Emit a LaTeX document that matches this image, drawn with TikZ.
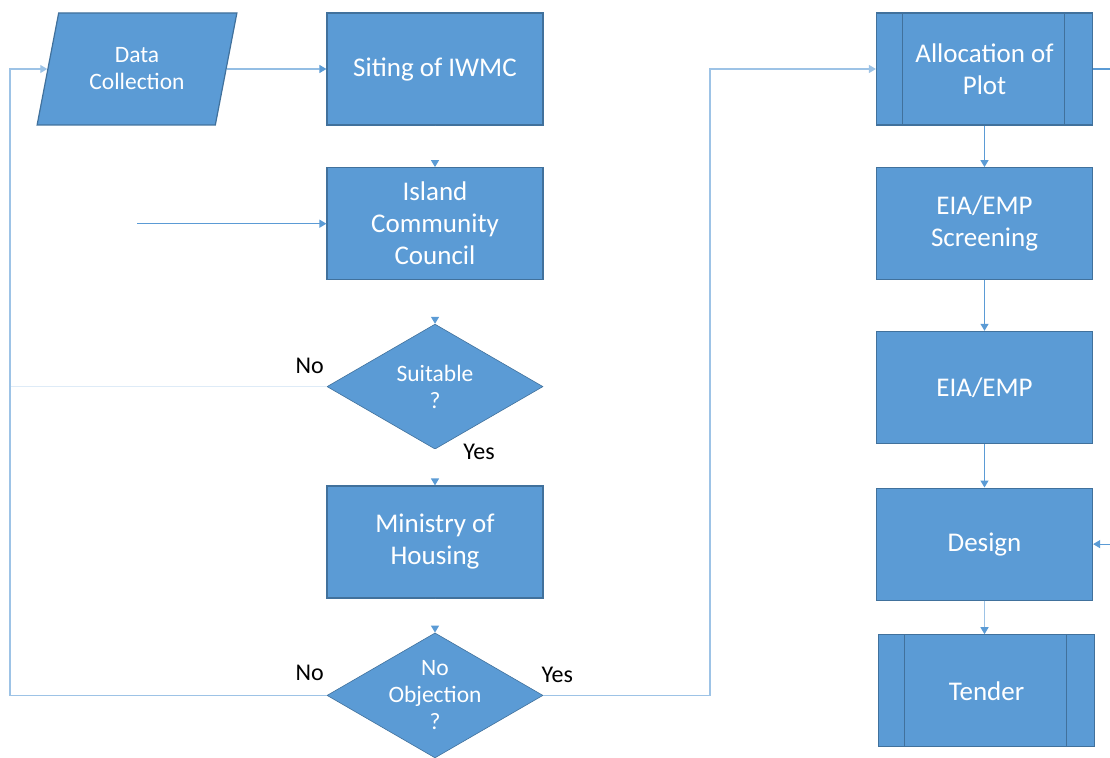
\documentclass[tikz,border=0pt]{standalone}
\usepackage{fontspec}
\setmainfont{Carlito}
\usetikzlibrary{positioning,shapes.geometric,arrows.meta}

\definecolor{boxfill}{HTML}{5B9BD5}
\definecolor{boxline}{HTML}{41719C}
\definecolor{flow}{HTML}{5B9BD5}
\definecolor{softflow}{HTML}{9DC3E6}
\definecolor{faintflow}{HTML}{DEEBF7}
\newcommand{\boxfont}{\fontsize{27}{32}\selectfont}
\newcommand{\qfont}{\fontsize{23.5}{27}\selectfont}
\newcommand{\lblfont}{\fontsize{24}{28}\selectfont}

\tikzset{
  procbox/.style={draw=boxline, line width=1.2pt, fill=boxfill, text=white,
    minimum width=216pt, minimum height=112pt, align=center, font=\boxfont},
  subproc/.style={procbox, path picture={
      \draw[boxline, line width=1.2pt]
        ([xshift=26pt]path picture bounding box.north west) -- ([xshift=26pt]path picture bounding box.south west)
        ([xshift=-28pt]path picture bounding box.north east) -- ([xshift=-28pt]path picture bounding box.south east);}},
  datain/.style={trapezium, trapezium left angle=74, trapezium right angle=106,
    trapezium stretches=true, draw=boxline, line width=1.2pt, fill=boxfill, text=white,
    minimum width=200pt, minimum height=112pt, align=center, font=\qfont},
  decision/.style={diamond, shape aspect=1.73, draw=boxline, line width=0.6pt, fill=boxfill, text=white,
    minimum width=216pt, minimum height=125pt, inner sep=0pt, align=center, font=\qfont},
  lbl/.style={text=black, font=\lblfont},
  flowline/.style={draw=flow, line width=1.2pt},
  tiponly/.style={draw=white, line width=1.2pt, -{Triangle[width=8pt,length=7pt,color=flow]}}
}

\begin{document}
\begin{tikzpicture}[x=1pt,y=-1pt,>={Triangle[width=8pt,length=7pt]}]
  \useasboundingbox (0,0) rectangle (1110,757);

  % left column
  \node[datain] (data) at (137,69) {Data\\Collection};
  \node[procbox] (siting) at (435,69) {Siting of IWMC};
  \node[procbox, below=41.5pt of siting] (council) {Island\\Community\\Council};
  \node[decision, below=43.5pt of council] (suitable) {Suitable\\?};
  \node[procbox, below=36pt of suitable] (housing) {Ministry of\\Housing};
  \node[decision, below=34pt of housing] (noobj) {No\\Objection\\?};

  % right column
  \node[subproc] (plot) at (984.5,69) {Allocation of\\Plot};
  \node[procbox, below=41.5pt of plot] (screening) {EIA/EMP\\Screening};
  \node[procbox, below=50.5pt of screening] (eiaemp) {EIA/EMP};
  \node[procbox, below=43.5pt of eiaemp] (design) {Design};
  \node[subproc, below=33.5pt of design, xshift=2pt] (tender) {Tender};

  % labels
  \node[lbl] (suitno) at ([shift={(-17,-21)}]suitable.west) {No};
  \node[lbl] (suityes) at ([shift={(44,2)}]suitable.south) {Yes};
  \node[lbl] (objno) at ([shift={(-17,-23)}]noobj.west) {No};
  \node[lbl] (objyes) at ([shift={(14,-21)}]noobj.east) {Yes};

  % free ends and tracks
  \coordinate (lefttrack) at (10,0);
  \coordinate (midtrack) at (710,0);
  \coordinate[left=189pt of council.west] (councilin);
  \coordinate[right=17pt of plot.east] (plotout);
  \coordinate[right=17pt of design.east] (designin);

  % connectors
  \draw[flowline,->] (data) -- (siting);
  \draw[tiponly] (siting) -- (council);
  \draw[tiponly] (council) -- (suitable);
  \draw[tiponly] (suitable) -- (housing);
  \draw[tiponly] (housing) -- (noobj);
  \draw[flowline,->] (councilin) -- (council);

  \draw[faintflow, line width=1.2pt] (suitable.west) -- (lefttrack |- suitable.west);
  \draw[draw=softflow, line width=1.2pt,->] (noobj.west) -| (lefttrack |- data.west) -- (data.west);
  \draw[draw=softflow, line width=1.2pt,->] (noobj.east) -| (midtrack |- plot.west) -- (plot.west);

  \draw[flowline,->] (plot) -- (screening);
  \draw[flowline,->] (screening) -- (eiaemp);
  \draw[flowline,->] (eiaemp) -- (design);
  \draw[draw=softflow, line width=1.2pt, -{Triangle[width=8pt,length=7pt,color=flow]}] (design) -- (design |- tender.north);
  \draw[flowline] (plot.east) -- (plotout);
  \draw[flowline,->] (designin) -- (design.east);
\end{tikzpicture}
\end{document}
